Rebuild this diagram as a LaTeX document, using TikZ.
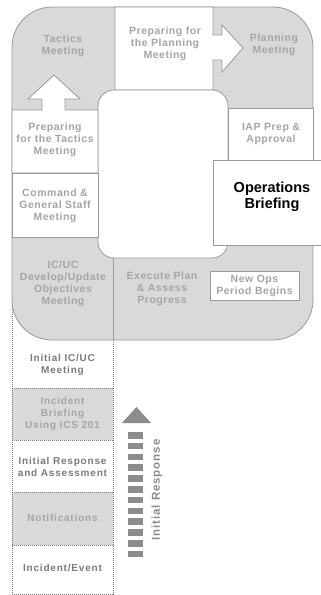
\documentclass[tikz,border=0pt]{standalone}
\usepackage{fontspec}
\setmainfont{Liberation Sans}
\newfontfamily\lblfont[LetterSpace=5]{Liberation Sans}
\newfontfamily\colfont[LetterSpace=8]{Liberation Sans}
\definecolor{fillg}{HTML}{D9D9D9}
\definecolor{lineg}{HTML}{9A9A9A}
\definecolor{txtg}{HTML}{A5A5A5}
\definecolor{darkg}{HTML}{7A7A7A}
\definecolor{arrg}{HTML}{8C8C8C}
\tikzset{
  region/.style={fill=fillg, draw=lineg, line width=0.8pt},
  whitebox/.style={fill=white, draw=lineg, line width=0.8pt, line join=miter},
  lbl/.style={text=txtg, font=\lblfont\bfseries\fontsize{10.5}{12}\selectfont, align=center, inner sep=0pt},
  opsl/.style={text=black, font=\bfseries\fontsize{14.5}{15.5}\selectfont, align=center, inner sep=0pt},
  collbl/.style={text=txtg, font=\colfont\bfseries\fontsize{10}{12}\selectfont, align=center, inner sep=0pt},
  dotl/.style={draw=darkg, line width=0.6pt, dash pattern=on 1pt off 1pt},
  arrfill/.style={fill=arrg, draw=none}
}
\begin{document}
\begin{tikzpicture}[x=1pt,y=-1pt]
\useasboundingbox (0,0) rectangle (321,595);
% dotted column below the cycle
\fill[fillg] (12,388) rectangle (113,440);
\fill[fillg] (12,492) rectangle (113,545);
\draw[dotl] (12,298) -- (12,594) -- (113,594) -- (113,340);
\draw[dotl] (12,388) -- (113,388);
\draw[dotl] (12,440) -- (113,440);
\draw[dotl] (12,492) -- (113,492);
\draw[dotl] (12,545) -- (113,545);
% outer grey cycle
\draw[region, rounded corners=40pt] (12,7) rectangle (313,340);
% preparing for the planning meeting with arrow
\draw[whitebox] (115,7) -- (213,7) -- (213,35) -- (222,35) -- (222,25) -- (243,48) -- (222,72) -- (222,60) -- (213,60) -- (213,90) -- (115,90) -- cycle;
% inner white area
\draw[whitebox, rounded corners=16pt] (98,90) rectangle (228,258);
% preparing for the tactics meeting with arrow
\draw[whitebox] (12,110) -- (42,110) -- (42,99) -- (28,99) -- (54,75) -- (80,99) -- (65,99) -- (65,110) -- (98,110) -- (98,173) -- (12,173) -- cycle;
\draw[whitebox] (12,173) rectangle (98,237);
\draw[whitebox] (228,108) rectangle (313,160);
\draw[whitebox] (213,160) rectangle (330,245);
\draw[whitebox] (210,271) rectangle (299,300);
\draw[draw=lineg, line width=0.8pt] (113,258) -- (113,340);
% labels
\node[lbl] (tac) at (63,46) {Tactics\\Meeting};
\node[lbl] (ppm) at (165,44) {Preparing for\\the Planning\\Meeting};
\node[lbl] (pm) at (274,45) {Planning\\Meeting};
\node[lbl] (iap) at (271,134) {IAP Prep \&\\Approval};
\node[lbl] (ptm) at (55,140) {Preparing\\for the Tactics\\Meeting};
\node[lbl] (cgs) at (55,206) {Command \&\\General Staff\\Meeting};
\node[lbl] (icuc) at (63,284) {IC/UC\\Develop/Update\\Objectives\\Meeting};
\node[lbl] (exe) at (162,289) {Execute Plan\\\& Assess\\Progress};
\node[lbl] (nop) at (254.5,285.5) {New Ops\\Period Begins};
\node[opsl] (ops) at (272,197) {Operations\\Briefing};
% dotted column labels
\node[collbl, text=darkg] (iic) at (62.5,365) {Initial IC/UC\\Meeting};
\node[collbl] (ib) at (62.5,414) {Incident\\Briefing\\Using ICS 201};
\node[collbl, text=darkg] (ira) at (62.5,467) {Initial Response\\and Assessment};
\node[collbl] (nt) at (62.5,518) {Notifications};
\node[collbl, text=darkg] (ie) at (62.5,568) {Incident/Event};
% initial response arrow
\fill[arrfill] (122,423) -- (136.5,407) -- (151,423) -- cycle;
\foreach \i in {0,...,11} {
  \fill[arrfill] (128,432+\i*10.8) rectangle (143,438.5+\i*10.8);
}
\node[collbl, text=arrg, rotate=90, font=\colfont\bfseries\fontsize{11.5}{12}\selectfont] (ir) at (157,490) {Initial Response};
\end{tikzpicture}
\end{document}
